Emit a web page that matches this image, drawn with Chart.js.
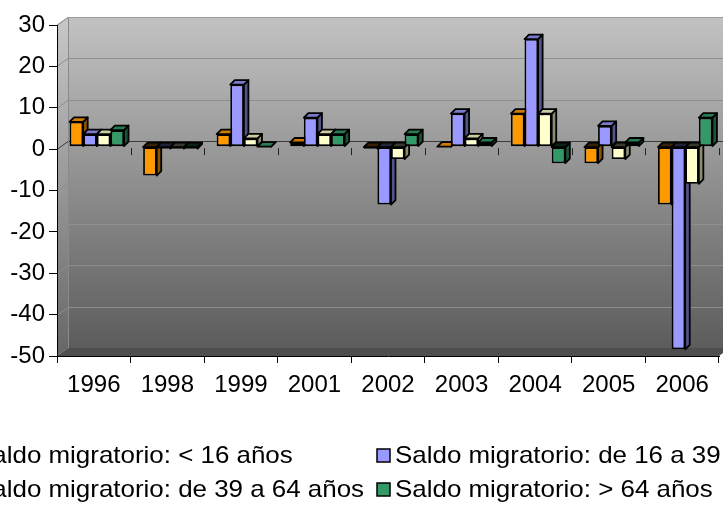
<!DOCTYPE html>
<html><head><meta charset="utf-8">
<script src="https://cdn.jsdelivr.net/npm/chart.js@4"></script>
<style>html,body{margin:0;padding:0;background:#fff;overflow:hidden}#wrap{width:723px;height:509px;position:relative}</style>
</head><body><div id="wrap"><canvas id="c" width="723" height="509"></canvas></div>
<script>
const categories = ['1996','1998','1999','2001','2002','2003','2004','2005','2006'];
const seriesNames = ['Saldo migratorio: < 16 años','Saldo migratorio: de 16 a 39 años','Saldo migratorio: de 39 a 64 años','Saldo migratorio: > 64 años'];
const under16 = [6,-7,3,1,-0.5,0,8,-4,-14];
const from16to39 = [3,-0.5,15,7,-14,8,26,5,-49];
const from39to64 = [3,-0.5,2,3,-3,2,8,-3,-9];
const over64 = [4,-0.5,0,3,3,1,-4,1,7];
const yMin = -50, yMax = 30, yStep = 10;
const colors = ['#FF9900','#9999FF','#FFFFCC','#339966'];

const FONT = '"Liberation Sans", Arial, sans-serif';
const DX = 11, DY = -8;      // wall depth
const BD = 4.5;              // bar depth

function shade(hex, f){
  const n = parseInt(hex.slice(1),16);
  const r = Math.round(((n>>16)&255)*f), g = Math.round(((n>>8)&255)*f), b = Math.round((n&255)*f);
  return 'rgb('+r+','+g+','+b+')';
}

const walls = {
  id:'walls',
  beforeDraw(chart){
    const ctx = chart.ctx, a = chart.chartArea, ys = chart.scales.y;
    const x0=a.left, x1=a.right, yT=a.top, yB=a.bottom;
    ctx.save();
    let g = ctx.createLinearGradient(0,yT+DY,0,yB+DY);
    g.addColorStop(0,'#c2c2c2'); g.addColorStop(1,'#5c5c5c');
    ctx.fillStyle=g; ctx.fillRect(x0+DX,yT+DY,(x1-x0)+20,yB-yT);
    g = ctx.createLinearGradient(0,yT,0,yB);
    g.addColorStop(0,'#c6c6c6'); g.addColorStop(1,'#666666');
    ctx.fillStyle=g;
    ctx.beginPath(); ctx.moveTo(x0,yT); ctx.lineTo(x0+DX,yT+DY); ctx.lineTo(x0+DX,yB+DY); ctx.lineTo(x0,yB); ctx.closePath(); ctx.fill();
    ctx.fillStyle='#4e4e4e';
    ctx.beginPath(); ctx.moveTo(x0,yB); ctx.lineTo(x0+DX,yB+DY); ctx.lineTo(x1+DX,yB+DY); ctx.lineTo(x1,yB); ctx.closePath(); ctx.fill();
    ctx.lineWidth=1;
    for(let v=yMin+yStep; v<=yMax; v+=yStep){
      const yf = Math.round(ys.getPixelForValue(v))+0.5;
      ctx.strokeStyle = v===0 ? '#3a3a3a' : '#8e8e8e';
      ctx.beginPath(); ctx.moveTo(x0,yf); ctx.lineTo(x0+DX,yf+DY); ctx.lineTo(x1+DX+20,yf+DY); ctx.stroke();
    }
    ctx.strokeStyle='#8a8a8a';
    ctx.beginPath(); ctx.moveTo(x0+DX+0.5,yB+DY); ctx.lineTo(x0+DX+0.5,yT+DY); ctx.stroke();
    ctx.strokeStyle='#9a9a9a';
    ctx.beginPath(); ctx.moveTo(x0,yT); ctx.lineTo(x0+DX,yT+DY+0.5); ctx.lineTo(x1+DX+20,yT+DY+0.5); ctx.stroke();
    const n = categories.length, step=(x1-x0)/n;
    const y0 = ys.getPixelForValue(0);
    ctx.strokeStyle='#222';
    for(let i=1;i<=n;i++){
      const x=Math.round(x0+i*step)+0.5;
      ctx.beginPath(); ctx.moveTo(x,y0-1); ctx.lineTo(x,y0+6); ctx.stroke();
    }
    ctx.restore();
  }
};

const faces = {
  id:'faces',
  beforeDatasetsDraw(chart){
    const ctx = chart.ctx;
    ctx.save();
    ctx.translate(3,-2.5);
    ctx.lineWidth=1.8; ctx.strokeStyle='#000'; ctx.lineJoin='round';
    chart.data.datasets.forEach((ds,di)=>{
      const meta = chart.getDatasetMeta(di);
      const col = colors[di];
      meta.data.forEach((bar,i)=>{
        const p = bar.getProps(['x','y','base','width'],true);
        const l=p.x-p.width/2, r=p.x+p.width/2;
        const top=Math.min(p.y,p.base), bot=Math.max(p.y,p.base);
        const neg = ds.data[i] < 0;
        ctx.beginPath(); ctx.moveTo(r,top); ctx.lineTo(r+BD,top-BD); ctx.lineTo(r+BD,bot-BD); ctx.lineTo(r,bot); ctx.closePath();
        ctx.fillStyle = shade(col,0.55); ctx.fill(); ctx.stroke();
        ctx.beginPath(); ctx.moveTo(l,top); ctx.lineTo(l+BD,top-BD); ctx.lineTo(r+BD,top-BD); ctx.lineTo(r,top); ctx.closePath();
        ctx.fillStyle = neg ? shade(col,0.22) : shade(col,0.8); ctx.fill(); ctx.stroke();
      });
    });
  },
  afterDatasetsDraw(chart){ chart.ctx.restore(); }
};

const legendPlugin = {
  id:'customLegend',
  afterDraw(chart){
    const ctx = chart.ctx;
    const pos = [{x:-25,y:463},{x:395,y:463},{x:-25,y:497},{x:395,y:497}];
    ctx.save();
    ctx.font = '24px '+FONT; ctx.textBaseline='alphabetic'; ctx.textAlign='left';
    seriesNames.forEach((name,i)=>{
      const p = pos[i];
      ctx.fillStyle = colors[i]; ctx.strokeStyle='#000'; ctx.lineWidth=1.5;
      ctx.fillRect(p.x-18,p.y-14,13,13); ctx.strokeRect(p.x-18,p.y-14,13,13);
      ctx.fillStyle='#000';
      ctx.save(); ctx.translate(p.x,p.y); ctx.scale(1.08,1); ctx.fillText(name,0,0); ctx.restore();
    });
    ctx.restore();
  }
};

const seriesData = [under16, from16to39, from39to64, over64];
new Chart(document.getElementById('c'), {
  type:'bar',
  data:{
    labels: categories,
    datasets: seriesData.map((d,i)=>({
      label: seriesNames[i], data: d,
      backgroundColor: colors[i], borderColor:'#000', borderWidth:1.8, borderSkipped:false,
      categoryPercentage:0.74, barPercentage:1.0
    }))
  },
  options:{
    responsive:false, animation:false, devicePixelRatio:1,
    layout:{padding:{left:0,right:4,top:25,bottom:0}},
    plugins:{legend:{display:false}, tooltip:{enabled:false}},
    scales:{
      x:{
        grid:{offset:true, drawOnChartArea:false, drawTicks:true, tickLength:7, color:'#000'},
        border:{display:true,color:'#000',width:1},
        ticks:{color:'#000', font:{family:FONT,size:24}, padding:8, maxRotation:0, autoSkip:false},
        afterFit(s){ s.height = 153; }
      },
      y:{
        min:yMin, max:yMax,
        grid:{drawOnChartArea:false, drawTicks:true, tickLength:8, color:'#000'},
        border:{display:true,color:'#000',width:1},
        ticks:{stepSize:yStep, color:'#000', font:{family:FONT,size:24}, padding:4},
        afterFit(s){ s.width = 57; }
      }
    }
  },
  plugins:[walls, faces, legendPlugin]
});
</script></body></html>
